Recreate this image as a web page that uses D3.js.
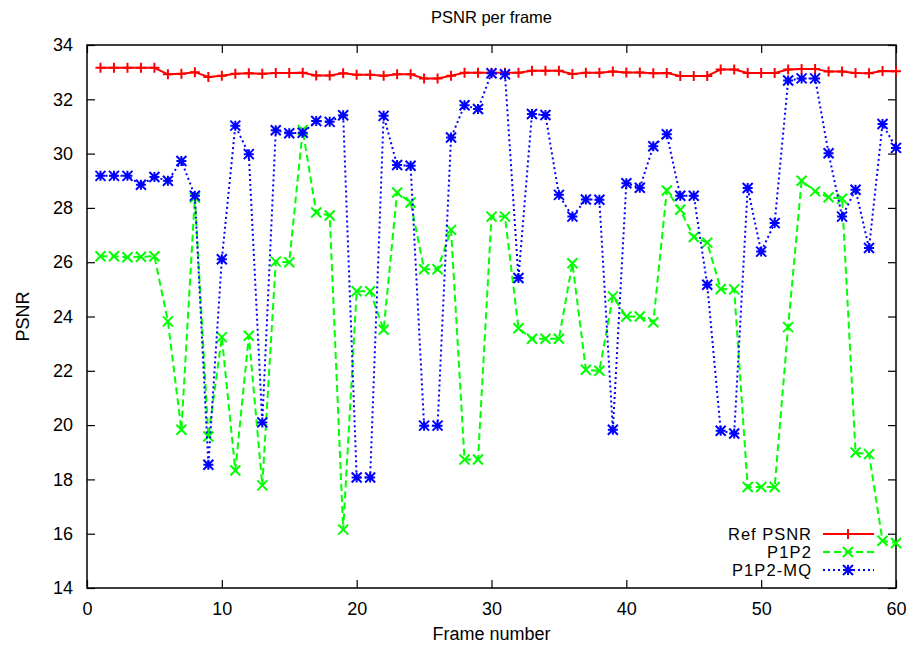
<!DOCTYPE html>
<html>
<head>
<meta charset="utf-8">
<script src="https://cdn.jsdelivr.net/npm/d3@7"></script>
<style>
  body { margin: 0; background: #fff; }
  text { font-family: "Liberation Sans", Arial, sans-serif; }
</style>
</head>
<body>
<svg width="912" height="649"></svg>
<script>
// frame numbers 1..60
var frames = d3.range(1, 61);

var refPsnr = [33.16, 33.16, 33.16, 33.16, 33.16, 32.92, 32.94, 33.0, 32.82, 32.87,
               32.94, 32.96, 32.94, 32.97, 32.97, 32.98, 32.88, 32.88, 32.96, 32.9,
               32.9, 32.87, 32.92, 32.92, 32.77, 32.77, 32.87, 32.98, 32.98, 32.98,
               32.98, 32.98, 33.05, 33.05, 33.05, 32.93, 32.98, 32.98, 33.02, 32.99,
               32.99, 32.96, 32.97, 32.86, 32.86, 32.86, 33.1, 33.1, 32.97, 32.97,
               32.97, 33.1, 33.12, 33.12, 33.02, 33.02, 32.97, 32.96, 33.04, 33.03];

var p1p2 = [26.22, 26.22, 26.18, 26.2, 26.22, 23.82, 19.83, 28.38, 19.58, 23.24,
            18.33, 23.29, 17.78, 26.02, 26.0, 30.87, 27.83, 27.72, 16.15, 24.93,
            24.93, 23.51, 28.57, 28.2, 25.74, 25.74, 27.19, 18.73, 18.73, 27.68,
            27.68, 23.57, 23.18, 23.18, 23.18, 25.96, 22.04, 22.0, 24.74, 24.0,
            24.0, 23.79, 28.64, 27.93, 26.93, 26.72, 25.01, 25.0, 17.72, 17.72,
            17.72, 23.61, 29.0, 28.61, 28.39, 28.34, 18.99, 18.93, 15.74, 15.66];

var p1p2mq = [29.18, 29.18, 29.18, 28.85, 29.14, 29.0, 29.73, 28.45, 18.54, 26.11,
              31.03, 29.98, 20.1, 30.86, 30.75, 30.77, 31.2, 31.17, 31.41, 18.07,
              18.07, 31.39, 29.58, 29.55, 19.98, 19.98, 30.59, 31.78, 31.64, 32.96,
              32.92, 25.42, 31.46, 31.42, 28.48, 27.68, 28.31, 28.3, 19.83, 28.91,
              28.74, 30.27, 30.71, 28.45, 28.45, 25.17, 19.79, 19.69, 28.73, 26.39,
              27.44, 32.69, 32.77, 32.77, 30.01, 27.68, 28.67, 26.52, 31.09, 30.21];

var xTicks = [0, 10, 20, 30, 40, 50, 60];
var yTicks = [14, 16, 18, 20, 22, 24, 26, 28, 30, 32, 34];

var seriesNames = ["Ref PSNR", "P1P2", "P1P2-MQ"];
var seriesColors = ["#ff0000", "#00ff00", "#0000ff"];
var seriesDash = [null, "7,4", "2,3"];
var seriesMarks = ["plus", "cross", "star"];

var svg = d3.select("svg");
var plotL = 87, plotR = 896, plotT = 45, plotB = 588;

var x = d3.scaleLinear().domain([0, 60]).range([plotL, plotR]);
var y = d3.scaleLinear().domain([14, 34]).range([plotB, plotT]);

// title
svg.append("text")
   .attr("x", (plotL + plotR) / 2)
   .attr("y", 23)
   .attr("text-anchor", "middle")
   .attr("font-size", "16.5px")
   .text("PSNR per frame");

// axes, ticks inward, mirrored
var tl = 8;
svg.append("g")
   .attr("transform", "translate(0," + plotB + ")")
   .call(d3.axisBottom(x).tickValues(xTicks).tickSizeInner(-tl).tickSizeOuter(0).tickPadding(tl + 6))
   .call(function(g) { g.select(".domain").remove(); });
svg.append("g")
   .attr("transform", "translate(0," + plotT + ")")
   .call(d3.axisTop(x).tickValues(xTicks).tickSizeInner(-tl).tickSizeOuter(0).tickFormat(""))
   .call(function(g) { g.select(".domain").remove(); });
svg.append("g")
   .attr("transform", "translate(" + plotL + ",0)")
   .call(d3.axisLeft(y).tickValues(yTicks).tickSizeInner(-tl).tickSizeOuter(0).tickPadding(tl + 6))
   .call(function(g) { g.select(".domain").remove(); });
svg.append("g")
   .attr("transform", "translate(" + plotR + ",0)")
   .call(d3.axisRight(y).tickValues(yTicks).tickSizeInner(-tl).tickSizeOuter(0).tickFormat(""))
   .call(function(g) { g.select(".domain").remove(); });

svg.selectAll(".tick text")
   .attr("font-size", "18px")
   .attr("font-family", "Liberation Sans, Arial, sans-serif")
   .attr("fill", "#000");
svg.selectAll(".tick line").attr("stroke", "#000").attr("stroke-width", 1.2);

svg.append("rect")
   .attr("x", plotL).attr("y", plotT)
   .attr("width", plotR - plotL).attr("height", plotB - plotT)
   .attr("fill", "none").attr("stroke", "#000").attr("stroke-width", 1.5);

// axis labels
svg.append("text")
   .attr("x", (plotL + plotR) / 2)
   .attr("y", 640)
   .attr("text-anchor", "middle")
   .attr("font-size", "18px")
   .text("Frame number");
svg.append("text")
   .attr("transform", "translate(29," + ((plotT + plotB) / 2) + ") rotate(-90)")
   .attr("text-anchor", "middle")
   .attr("font-size", "18px")
   .text("PSNR");

function marker(g, type, cx, cy, color) {
  var s = 5;
  var d;
  if (type == "plus") {
    d = "M" + (cx - s) + "," + cy + "H" + (cx + s) + "M" + cx + "," + (cy - s) + "V" + (cy + s);
  } else if (type == "cross") {
    d = "M" + (cx - s) + "," + (cy - s) + "L" + (cx + s) + "," + (cy + s) +
        "M" + (cx - s) + "," + (cy + s) + "L" + (cx + s) + "," + (cy - s);
  } else {
    d = "M" + (cx - s) + "," + cy + "H" + (cx + s) + "M" + cx + "," + (cy - s) + "V" + (cy + s) +
        "M" + (cx - s) + "," + (cy - s) + "L" + (cx + s) + "," + (cy + s) +
        "M" + (cx - s) + "," + (cy + s) + "L" + (cx + s) + "," + (cy - s);
  }
  g.append("path").attr("d", d).attr("stroke", color).attr("stroke-width", 2).attr("fill", "none");
}

var allSeries = [refPsnr, p1p2, p1p2mq];
var line = d3.line()
   .x(function(d, i) { return x(frames[i]); })
   .y(function(d) { return y(d); });

var plot = svg.append("g");
allSeries.forEach(function(data, k) {
  plot.append("path")
      .datum(data)
      .attr("d", line)
      .attr("fill", "none")
      .attr("stroke", seriesColors[k])
      .attr("stroke-width", 2)
      .attr("stroke-dasharray", seriesDash[k]);
  data.forEach(function(v, i) {
    marker(plot, seriesMarks[k], x(frames[i]), y(v), seriesColors[k]);
  });
});

// legend
var legY = [534, 552, 570];
var legW = [83, 44, 79];
seriesNames.forEach(function(name, k) {
  svg.append("text")
     .attr("x", 811)
     .attr("y", legY[k] + 6)
     .attr("text-anchor", "end")
     .attr("font-size", "16.5px")
     .attr("textLength", legW[k])
     .text(name);
  svg.append("line")
     .attr("x1", 823).attr("x2", 874)
     .attr("y1", legY[k]).attr("y2", legY[k])
     .attr("stroke", seriesColors[k])
     .attr("stroke-width", 2)
     .attr("stroke-dasharray", seriesDash[k]);
  marker(svg, seriesMarks[k], 848, legY[k], seriesColors[k]);
});
</script>
</body>
</html>
